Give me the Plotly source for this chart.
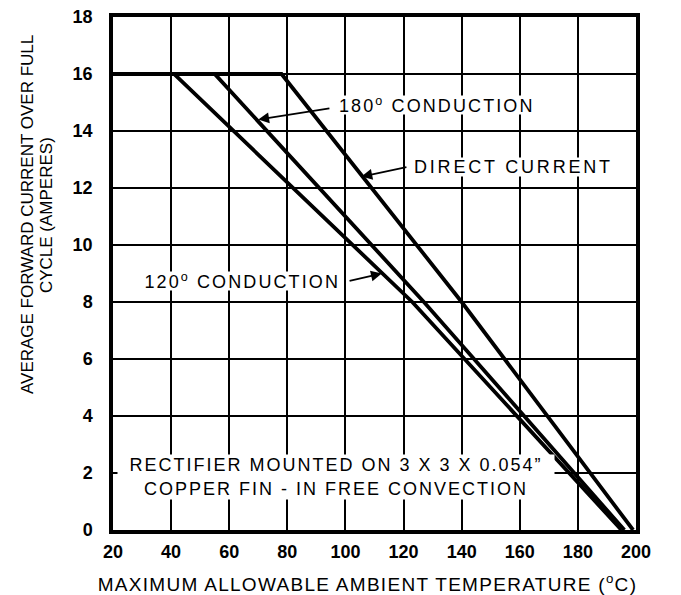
import plotly.graph_objects as go

# Data
temp_120 = [20, 41, 123, 195]
amps_120 = [16, 16, 8, 0]
temp_180 = [20, 55, 127, 196]
amps_180 = [16, 16, 8, 0]
temp_dc = [20, 78, 140, 199]
amps_dc = [16, 16, 8, 0]

x_ticks = [20, 40, 60, 80, 100, 120, 140, 160, 180, 200]
y_ticks = [0, 2, 4, 6, 8, 10, 12, 14, 16, 18]

FONT = "Liberation Sans, Arial, sans-serif"

fig = go.Figure()
for xs, ys, name in [(temp_120, amps_120, "120° conduction"),
                     (temp_180, amps_180, "180° conduction"),
                     (temp_dc, amps_dc, "Direct current")]:
    fig.add_trace(go.Scatter(x=xs, y=ys, mode="lines", name=name,
                             line=dict(color="black", width=3.8),
                             showlegend=False, hoverinfo="skip"))

annos = []
# Arrows (tail -> head in data coords)
for (hx, hy, tx, ty) in [(70, 14.4, 95, 14.8),
                         (105.5, 12.4, 121.5, 12.74),
                         (112.5, 9.0, 100.9, 8.73)]:
    annos.append(dict(x=hx, y=hy, ax=tx, ay=ty, xref="x", yref="y",
                      axref="x", ayref="y", text="", showarrow=True,
                      arrowhead=2, arrowsize=1.2, arrowwidth=1.8,
                      arrowcolor="black"))

txtfont = dict(family=FONT, size=18, color="black")
annos += [
    dict(x=97.3, y=14.93, xref="x", yref="y", text="180<sup>o</sup> CONDUCTION",
         showarrow=False, xanchor="left", yanchor="middle", font=txtfont,
         bgcolor="white", borderpad=0, width=204, height=18, align="left"),
    dict(x=123.3, y=12.74, xref="x", yref="y", text="DIRECT CURRENT",
         showarrow=False, xanchor="left", yanchor="middle", font=txtfont,
         bgcolor="white", borderpad=0, width=206, height=18, align="left"),
    dict(x=98.5, y=8.72, xref="x", yref="y", text="120<sup>o</sup> CONDUCTION",
         showarrow=False, xanchor="right", yanchor="middle", font=txtfont,
         bgcolor="white", borderpad=0, width=204, height=18, align="right"),
    dict(x=96.6, y=1.85, xref="x", yref="y",
         text="RECTIFIER MOUNTED ON 3 X 3 X 0.054\u201d<br>COPPER FIN - IN FREE CONVECTION",
         showarrow=False, xanchor="center", yanchor="middle", font=txtfont,
         bgcolor="white", borderpad=0, width=436, height=44, align="center"),
    # Axis titles
    dict(x=0.487, y=-0.103, xref="paper", yref="paper",
         text="MAXIMUM ALLOWABLE AMBIENT TEMPERATURE (<sup>o</sup>C)",
         showarrow=False, xanchor="center", yanchor="middle",
         font=dict(family=FONT, size=19, color="black")),
    dict(x=-0.1644, y=0.614, xref="paper", yref="paper",
         text="AVERAGE FORWARD CURRENT OVER FULL", textangle=-90,
         showarrow=False, xanchor="center", yanchor="middle",
         font=dict(family=FONT, size=17, color="black")),
    dict(x=-0.128, y=0.614, xref="paper", yref="paper",
         text="CYCLE (AMPERES)", textangle=-90,
         showarrow=False, xanchor="center", yanchor="middle",
         font=dict(family=FONT, size=17, color="black")),
]

axis_common = dict(showgrid=True, gridcolor="black", gridwidth=2.2,
                   showline=True, linecolor="black", linewidth=3.5, mirror=True,
                   zeroline=False, ticks="", automargin=False,
                   tickfont=dict(family=FONT, size=18, color="black", weight="bold"))

fig.update_layout(
    width=681, height=595,
    margin=dict(l=113, r=45, t=17, b=65),
    paper_bgcolor="white", plot_bgcolor="white",
    annotations=annos,
    xaxis=dict(range=[20, 200], tickvals=x_ticks, ticktext=[str(v) for v in x_ticks],
               ticklabelstandoff=3, **axis_common),
    yaxis=dict(range=[0, 18], tickvals=y_ticks, ticktext=[str(v) for v in y_ticks],
               ticklabelstandoff=13, **axis_common),
)

post = """
document.body.style.margin='0';document.body.style.overflow='hidden';
(function(){
  var sp={3:2.1,4:2.8,5:2.1,6:2.0,7:1.3};
  function f(){
    var gd=document.getElementById('{plot_id}');
    if(!gd) return;
    for(var k in sp){
      var t=gd.querySelector('g.annotation[data-index="'+k+'"] text.annotation-text');
      if(t){t.style.letterSpacing=sp[k]+'px';}
    }
  }
  f(); setTimeout(f,50); setTimeout(f,300);
})();
"""

fig.write_html("out.html", config={"displayModeBar": False}, post_script=post)
